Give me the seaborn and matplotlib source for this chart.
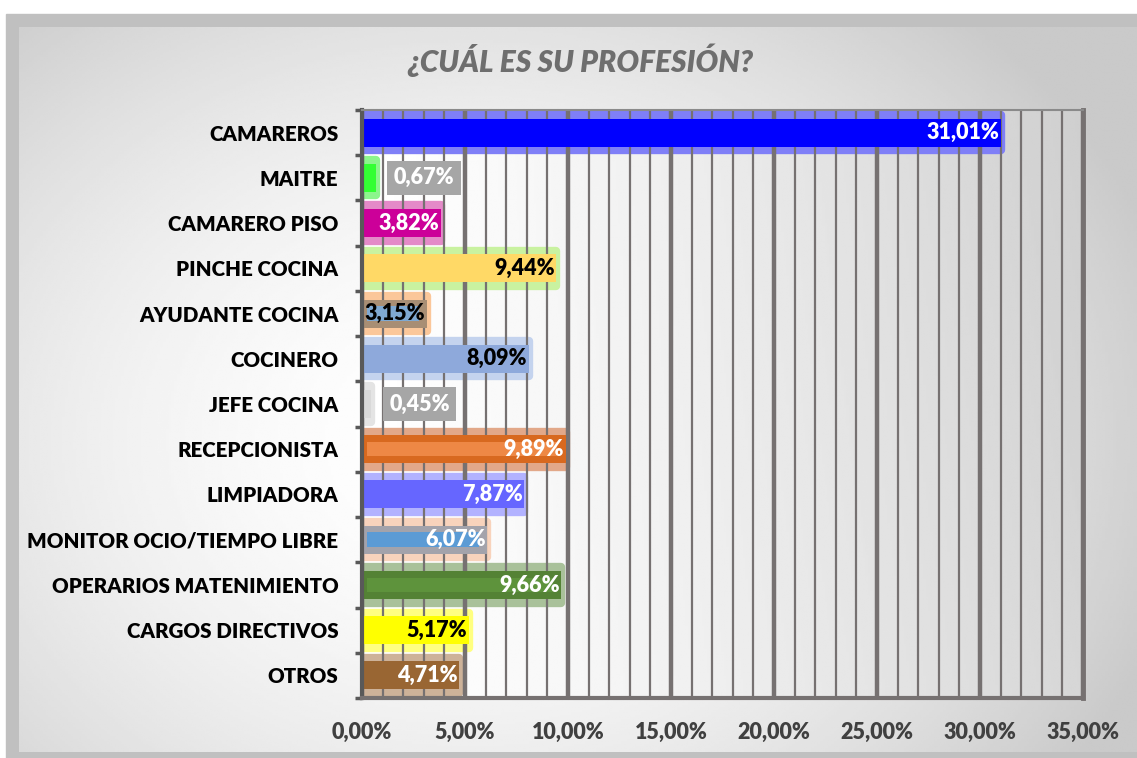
import numpy as np
import pandas as pd
import seaborn as sns
import matplotlib.pyplot as plt
from matplotlib.patches import Rectangle
from matplotlib.ticker import FuncFormatter, FixedLocator

# data
categories = ['CAMAREROS', 'MAITRE', 'CAMARERO PISO', 'PINCHE COCINA', 'AYUDANTE COCINA',
              'COCINERO', 'JEFE COCINA', 'RECEPCIONISTA', 'LIMPIADORA',
              'MONITOR OCIO/TIEMPO LIBRE', 'OPERARIOS MATENIMIENTO', 'CARGOS DIRECTIVOS', 'OTROS']
percent = [31.01, 0.67, 3.82, 9.44, 3.15, 8.09, 0.45, 9.89, 7.87, 6.07, 9.66, 5.17, 4.71]
x_ticks = [0, 5, 10, 15, 20, 25, 30, 35]
title = '¿CUÁL ES SU PROFESIÓN?'

# styles
bar_colors = ['#0000FF', '#33FF33', '#CC0099', '#FFD966', '#A88E74', '#8EA9DB', '#D9D9D9',
              '#D8691F', '#6666FF', '#A3A3AB', '#548235', '#FFFF00', '#996633']
glow_colors = ['#7F7FF7', '#8CF58C', '#E48AC8', '#C9F2A0', '#FBC79A', '#C4D3EE', '#E4E4E4',
               '#E2A889', '#B2B2FF', '#F8D3BC', '#A9C19A', '#FFFF80', '#CDB299']
inner_colors = {'AYUDANTE COCINA': '#7FA9D2', 'RECEPCIONISTA': '#EE8845',
                'MONITOR OCIO/TIEMPO LIBRE': '#5B9BD5', 'OPERARIOS MATENIMIENTO': '#5E933C'}
label_colors = ['white', 'white', 'white', 'black', 'black', 'black', 'white',
                'white', 'white', 'white', 'white', 'black', 'white']
boxed = ['MAITRE', 'JEFE COCINA']

font = 'Lato'
plt.rcParams['font.family'] = [font, 'DejaVu Sans']

df = pd.DataFrame({'cat': categories, 'pct': percent})

W, H = 1137, 758
fig = plt.figure(figsize=(W / 100, H / 100), dpi=100)
fig.patch.set_facecolor('white')

# background panel with soft radial gradient
bg = fig.add_axes([0, 0, 1, 1], zorder=-5)
bg.set_xlim(0, W)
bg.set_ylim(H, 0)
bg.axis('off')
bg.add_patch(Rectangle((6, 14), W - 6, H - 14, color='#C0C0C0', zorder=0))
gx, gy = np.meshgrid(np.linspace(19, W, 400), np.linspace(27, 752, 300))
d = np.sqrt(((gx - 470) / 750) ** 2 + ((gy - 440) / 600) ** 2)
shade = np.clip(1.0 - 0.22 * d ** 1.8, 0.79, 1.0)
bg.imshow(shade, cmap='gray', vmin=0, vmax=1, extent=(19, W, 752, 27),
          aspect='auto', zorder=1, interpolation='bilinear')

ax = fig.add_axes([362 / W, 1 - 698 / H, (1083 - 362) / W, (698 - 110) / H])
ax.patch.set_alpha(0)

# plot area: white on the left fading to light grey on the right
px, py = np.meshgrid(np.linspace(0, 1, 300), np.linspace(0, 1, 200))
area = np.clip(1.0 - 0.16 * px ** 1.3 - 0.03 * py * px, 0.8, 1.0)
ax.imshow(area, cmap='gray', vmin=0, vmax=1, extent=(0, 1, 0, 1), origin='lower',
          transform=ax.transAxes, aspect='auto', zorder=0.1, interpolation='bilinear')

# glow layer
sns.barplot(data=df, x='pct', y='cat', hue='cat', order=categories, hue_order=categories,
            palette=dict(zip(categories, glow_colors)), width=0.78, saturation=1,
            legend=False, errorbar=None, ax=ax, zorder=0.3)
for p in ax.patches:
    p.set_edgecolor(p.get_facecolor())
    p.set_linewidth(6)
    p.set_joinstyle('round')

# main bars
sns.barplot(data=df, x='pct', y='cat', hue='cat', order=categories, hue_order=categories,
            palette=dict(zip(categories, bar_colors)), width=0.62, saturation=1,
            legend=False, errorbar=None, ax=ax, zorder=2)

# inner gradient-like stripe for a few bars
inner = df[df['cat'].isin(inner_colors)]
n_before = len(ax.patches)
sns.barplot(data=inner, x='pct', y='cat', hue='cat', order=categories,
            hue_order=list(inner_colors), palette=inner_colors, width=0.32, saturation=1,
            legend=False, errorbar=None, ax=ax, zorder=2.5)
for p in ax.patches[n_before:]:
    p.set_x(p.get_x() + 0.25)
    p.set_width(max(p.get_width() - 0.65, 0))

# data labels
for i, (cat, v) in enumerate(zip(categories, percent)):
    txt = f'{v:.2f}%'.replace('.', ',')
    if cat in boxed:
        ax.annotate(txt, xy=(v, i), xytext=(13, 0), textcoords='offset points',
                    ha='left', va='center', color='white', fontsize=15.5, fontweight='heavy',
                    bbox=dict(boxstyle='square,pad=0.3', fc='#A6A6A6', ec='none'), zorder=5)
    else:
        ax.annotate(txt, xy=(v, i), xytext=(-1, 0), textcoords='offset points',
                    ha='right', va='center', color=label_colors[i], fontsize=15.5,
                    fontweight='heavy', zorder=5)

ax.set_xlim(0, 35)
ax.set_ylim(12.5, -0.5)
ax.set_xlabel('')
ax.set_ylabel('')

# grid: thin every 1 %, thicker every 5 %
ax.set_axisbelow(True)
ax.xaxis.set_major_locator(FixedLocator(x_ticks))
ax.xaxis.set_minor_locator(FixedLocator([t for t in range(36) if t % 5]))
ax.grid(which='major', axis='x', color='#767171', lw=3.2)
ax.grid(which='minor', axis='x', color='#767171', lw=1.6)
ax.grid(False, axis='y')
ax.xaxis.set_major_formatter(FuncFormatter(lambda v, _: f'{v:.2f}%'.replace('.', ',')))
ax.tick_params(axis='x', which='both', length=0, pad=17, labelsize=15.5, labelcolor='#404040')
for t in ax.get_xticklabels():
    t.set_fontweight('heavy')

ax.yaxis.set_minor_locator(FixedLocator(np.arange(-0.5, 13, 1)))
ax.tick_params(axis='y', which='major', length=0, pad=17, labelsize=14.8, labelcolor='black')
ax.tick_params(axis='y', which='minor', length=5, width=2.5, color='#595959', direction='out')
for t in ax.get_yticklabels():
    t.set_fontweight('heavy')

ax.spines['left'].set_color('#595959')
ax.spines['left'].set_linewidth(3)
ax.spines['bottom'].set_color('#767171')
ax.spines['bottom'].set_linewidth(3)
ax.spines['right'].set_color('#767171')
ax.spines['right'].set_linewidth(3.5)
ax.spines['top'].set_color('#8A8A8A')
ax.spines['top'].set_linewidth(1.5)

fig.text(580 / W, 1 - 60 / H, title, ha='center', va='center', fontsize=21.5,
         fontweight='heavy', fontstyle='italic', color='#6E6E6E')

fig.savefig('out.png', dpi=100)
